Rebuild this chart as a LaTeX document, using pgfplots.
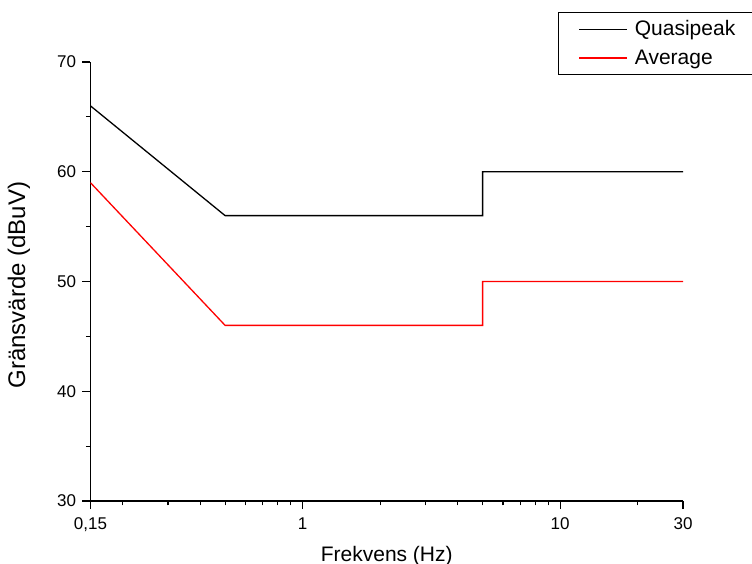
\documentclass[border=0pt]{standalone}
\usepackage{pgfplots}
\pgfplotsset{compat=1.18}
\usepackage{fontspec}
\setmainfont{Liberation Sans}
\begin{document}
\begin{tikzpicture}
\useasboundingbox (-90.5pt,-63pt) rectangle (661.5pt,501pt);
\begin{axis}[
  at={(0pt,0pt)}, anchor=south west,
  scale only axis, width=592.5pt, height=439pt,
  xmode=log, xmin=0.15, xmax=30, ymin=30, ymax=70,
  axis lines*=left,
  axis line style={line width=1.4pt},
  tick align=outside,
  tick style={line width=1.2pt, black},
  major tick length=8pt, minor tick length=4.5pt,
  xtick={0.15,1,10,30}, xticklabels={{0,15},1,10,30},
  minor xtick={0.2,0.3,0.4,0.5,0.6,0.7,0.8,0.9,2,3,4,5,6,7,8,9,20},
  ytick={30,40,50,60,70},
  minor ytick={35,45,55,65},
  /pgf/number format/assume math mode=true,
  tick label style={font=\fontsize{17}{20}\selectfont},
  xticklabel style={yshift=-5pt},
  yticklabel style={xshift=-3pt},
  xlabel={Frekvens (Hz)}, ylabel={Gränsvärde (dBuV)},
  xlabel style={font=\fontsize{21}{25}\selectfont, at={(axis description cs:0.5,0)}, anchor=base, yshift=-60pt},
  ylabel style={font=\fontsize{24}{28}\selectfont, at={(axis description cs:-0.121,0.492)}, anchor=center},
  legend style={at={(axis description cs:0.789,1.1146)}, anchor=north west,
    draw=black, line width=1pt, inner xsep=20pt, inner ysep=8.5pt,
    font=\fontsize{21}{25}\selectfont,
    nodes={inner sep=0pt, anchor=base west}, row sep=12.5pt, column sep=7pt},
  legend cell align=left,
  legend image code/.code={\draw[#1, line width=1.4pt] (0pt,6.5pt) -- (48pt,6.5pt);},
]
\addplot[black, line width=1.3pt] coordinates {(0.15,66) (0.5,56) (5,56) (5,60) (30,60)};
\addlegendentry{Quasipeak}
\addplot[red, line width=1.3pt] coordinates {(0.15,59) (0.5,46) (5,46) (5,50) (30,50)};
\addlegendentry{Average}
\end{axis}
\end{tikzpicture}
\end{document}
